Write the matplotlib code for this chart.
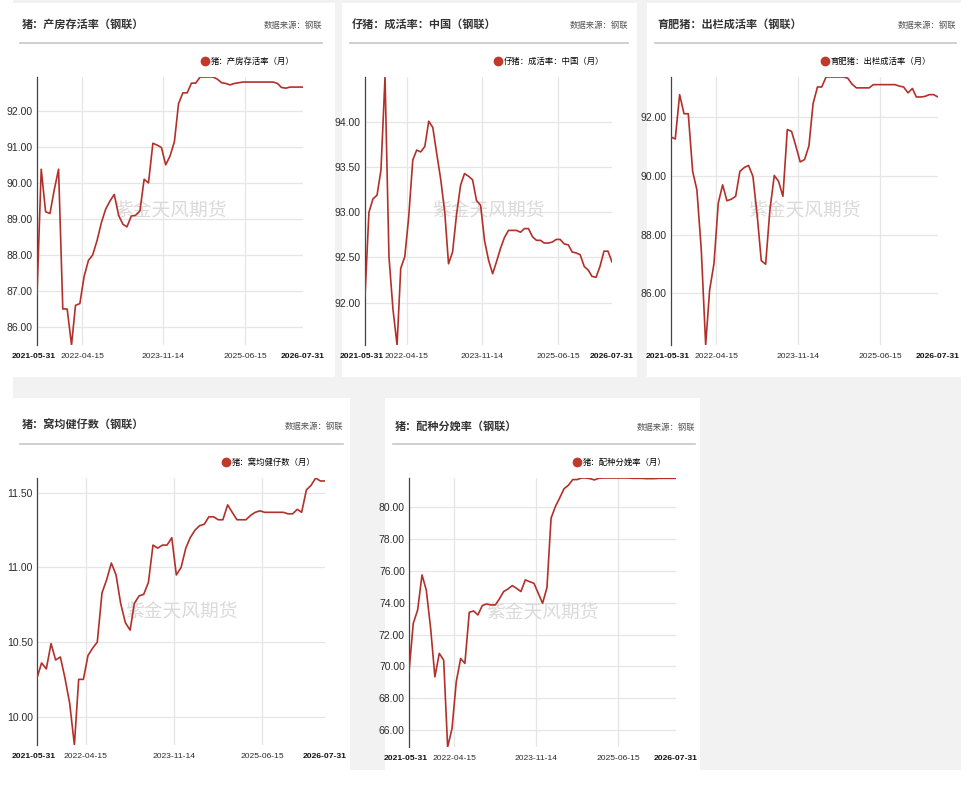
import pandas as pd
import numpy as np
import matplotlib
matplotlib.use('Agg')
import matplotlib.pyplot as plt
import matplotlib.transforms as mtransforms
from matplotlib.patches import Rectangle
from matplotlib.lines import Line2D

# 月度数据 2021-05 ~ 2026-07
dates = pd.date_range('2021-05-31', '2026-07-31', freq='ME')

# 猪：产房存活率
farrow_survival = [86.9, 90.38, 89.2, 89.15, 89.8, 90.38, 86.5, 86.5, 85.5, 86.6,
                   86.65, 87.4, 87.85, 88.0, 88.4, 88.9, 89.27, 89.5, 89.68, 89.1,
                   88.85, 88.78, 89.08, 89.1, 89.22, 90.1, 90.0, 91.1, 91.05, 90.98,
                   90.5, 90.75, 91.15, 92.2, 92.5, 92.5, 92.77, 92.77, 92.94, 92.94,
                   92.94, 92.94, 92.88, 92.78, 92.76, 92.72, 92.76, 92.78, 92.8, 92.8,
                   92.8, 92.8, 92.8, 92.8, 92.8, 92.8, 92.76, 92.65, 92.63, 92.66,
                   92.66, 92.66, 92.66]
# 仔猪：成活率：中国
piglet_survival = [92.07, 93.0, 93.15, 93.19, 93.47, 94.5, 92.51, 91.92, 91.53, 92.38,
                   92.51, 92.95, 93.58, 93.69, 93.67, 93.73, 94.01, 93.94, 93.65, 93.36,
                   92.99, 92.43, 92.56, 92.97, 93.3, 93.43, 93.4, 93.36, 93.13, 93.08,
                   92.69, 92.47, 92.32, 92.45, 92.6, 92.72, 92.8, 92.8, 92.8, 92.78,
                   92.82, 92.82, 92.73, 92.69, 92.69, 92.66, 92.66, 92.67, 92.7, 92.7,
                   92.65, 92.64, 92.56, 92.55, 92.53, 92.4, 92.36, 92.29, 92.28, 92.4,
                   92.57, 92.57, 92.45]
# 育肥猪：出栏成活率
finisher_survival = [91.32, 91.25, 92.76, 92.11, 92.11, 90.15, 89.52, 87.48, 84.24, 86.11,
                     87.02, 89.07, 89.69, 89.15, 89.2, 89.3, 90.15, 90.28, 90.35, 89.98,
                     88.61, 87.11, 86.99, 88.84, 90.01, 89.81, 89.3, 91.57, 91.51, 91.0,
                     90.47, 90.55, 91.02, 92.45, 93.02, 93.02, 93.36, 93.36, 93.36, 93.36,
                     93.36, 93.32, 93.12, 92.99, 92.99, 92.99, 92.99, 93.1, 93.1, 93.1,
                     93.1, 93.1, 93.1, 93.05, 93.02, 92.82, 92.97, 92.68, 92.68, 92.7,
                     92.76, 92.76, 92.68]
# 猪：窝均健仔数
litter_size = [10.26, 10.36, 10.32, 10.49, 10.38, 10.40, 10.26, 10.09, 9.81, 10.25,
               10.25, 10.41, 10.46, 10.50, 10.83, 10.92, 11.03, 10.95, 10.76, 10.63,
               10.58, 10.76, 10.81, 10.82, 10.9, 11.15, 11.13, 11.15, 11.15, 11.2,
               10.95, 11.0, 11.13, 11.2, 11.25, 11.28, 11.29, 11.34, 11.34, 11.32,
               11.32, 11.42, 11.37, 11.32, 11.32, 11.32, 11.35, 11.37, 11.38, 11.37,
               11.37, 11.37, 11.37, 11.37, 11.36, 11.36, 11.39, 11.37, 11.52, 11.55,
               11.60, 11.58, 11.58]
# 猪：配种分娩率
farrowing_rate = [69.66, 72.7, 73.54, 75.74, 74.8, 72.39, 69.35, 70.82, 70.4, 64.95,
                  66.1, 69.04, 70.5, 70.19, 73.4, 73.48, 73.23, 73.82, 73.92, 73.86,
                  73.86, 74.23, 74.7, 74.86, 75.07, 74.9, 74.7, 75.43, 75.32, 75.22,
                  74.6, 73.96, 74.95, 79.3, 80.04, 80.57, 81.15, 81.36, 81.72, 81.72,
                  81.82, 81.82, 81.78, 81.7, 81.8, 81.82, 81.82, 81.82, 81.82, 81.82,
                  81.82, 81.82, 81.8, 81.8, 81.8, 81.78, 81.78, 81.78, 81.8, 81.8,
                  81.8, 81.8, 81.8]

titles = ['猪：产房存活率（钢联）', '仔猪：成活率：中国（钢联）', '育肥猪：出栏成活率（钢联）',
          '猪：窝均健仔数（钢联）', '猪：配种分娩率（钢联）']
legend_labels = ['猪：产房存活率（月）', '仔猪：成活率：中国（月）', '育肥猪：出栏成活率（月）',
                 '猪：窝均健仔数（月）', '猪：配种分娩率（月）']
yticks_list = [np.arange(86, 93, 1.0), np.arange(92, 94.01, 0.5), np.arange(86, 93, 2.0),
               np.arange(10, 11.51, 0.5), np.arange(66, 81, 2.0)]
tick_dates = ['2021-05-31', '2022-04-15', '2023-11-14', '2025-06-15', '2026-07-31']
series = [farrow_survival, piglet_survival, finisher_survival, litter_size, farrowing_rate]

# 版面（像素）：白色面板、坐标区、标题行
W, H = 971, 785
boxes = [(0, 3, 335, 377), (342, 3, 637, 377), (647, 3, 961, 377),
         (0, 398, 350, 770), (385, 398, 700, 770)]
plot_areas = [(37, 77, 303, 345), (365, 77, 612, 345), (671, 77, 938, 345),
              (37, 478, 325, 745), (409, 478, 676, 747)]
head_rows = [(22, 322, 24, 43, 61, 208), (352, 628, 24, 43, 61, 501), (657, 956, 24, 43, 61, 828),
             (22, 343, 425, 444, 462, 229), (395, 695, 426, 444, 462, 580)]

cjk = ['Noto Sans CJK SC', 'DejaVu Sans']
num_font = ['Liberation Sans', 'DejaVu Sans']
line_color = '#b3302a'

fig = plt.figure(figsize=(W / 100, H / 100), dpi=100, facecolor='white')

def fx(x):
    return x / W

def fy(y):
    return 1 - y / H

# 灰色底与白色面板
fig.patches.append(Rectangle((fx(13), fy(770)), fx(961) - fx(13), fy(0) - fy(770),
                             transform=fig.transFigure, facecolor='#f2f2f2', edgecolor='none', zorder=-3))
for l, t, r, b in boxes:
    fig.patches.append(Rectangle((fx(l), fy(b)), fx(r) - fx(l), fy(t) - fy(b),
                                 transform=fig.transFigure, facecolor='white', edgecolor='none', zorder=-2))

tick_pos = pd.to_datetime(tick_dates)

for i in range(5):
    l, t, r, b = plot_areas[i]
    ax = fig.add_axes([fx(l), fy(b), fx(r) - fx(l), fy(t) - fy(b)])
    ax.set_facecolor('none')
    vals = series[i]
    ax.plot(dates, vals, color=line_color, lw=1.2, label=legend_labels[i], zorder=3)
    ax.set_xlim(dates[0], dates[-1])
    ax.set_ylim(min(vals), max(vals))

    ax.set_yticks(yticks_list[i])
    ax.set_yticklabels(['%.2f' % v for v in yticks_list[i]], family=num_font, fontsize=7.5, color='#2b2b2b')
    ax.set_xticks(tick_pos)
    ax.set_xticklabels(tick_dates, family=num_font, fontsize=6.1, color='#2b2b2b')
    ax.tick_params(length=0, axis='x', pad=6)
    ax.tick_params(length=0, axis='y', pad=3)
    xl = ax.get_xticklabels()
    for k in (0, -1):
        xl[k].set_fontweight('bold')
        xl[k].set_color('#111111')
    # 首个日期稍微左移，避免与第二个日期挤在一起
    xl[0].set_transform(xl[0].get_transform() +
                        mtransforms.ScaledTranslation(-3 / 100, 0, fig.dpi_scale_trans))

    # 网格：横线 + 中间三条竖线
    ax.grid(axis='y', color='#e6e6e6', lw=0.9)
    for d in tick_pos[1:4]:
        ax.axvline(d, color='#e6e6e6', lw=0.9, zorder=1)
    for s in ['top', 'right', 'bottom']:
        ax.spines[s].set_visible(False)
    ax.spines['left'].set_color('#444444')
    ax.spines['left'].set_linewidth(0.9)

    ax.text(0.5, 0.5, '紫金天风期货', transform=ax.transAxes, ha='center', va='center',
            family=cjk, fontsize=13.5, color='#dadada', zorder=2)

    # 标题、数据来源、分隔线、图例
    tx, sx, ty, ly, gy, mx = head_rows[i]
    fig.text(fx(tx), fy(ty), titles[i], family=cjk, fontsize=8, fontweight='bold',
             color='#333333', ha='left', va='center')
    fig.text(fx(sx), fy(ty + 1), '数据来源：钢联', family=cjk, fontsize=6, color='#555555',
             ha='right', va='center')
    fig.add_artist(Line2D([fx(tx - 2), fx(sx)], [fy(ly), fy(ly)], transform=fig.transFigure,
                          color='#cccccc', lw=1.3))
    handle = Line2D([], [], marker='o', ls='none', color='#c0392b', ms=6)
    ax.legend([handle], [legend_labels[i]], loc='center left',
              bbox_to_anchor=(fx(mx - 6), fy(gy)), bbox_transform=fig.transFigure,
              frameon=False, handlelength=0.6, handletextpad=0.4, borderpad=0, borderaxespad=0,
              prop={'family': cjk, 'size': 6})

fig.savefig('out.png', dpi=100, facecolor='white')
